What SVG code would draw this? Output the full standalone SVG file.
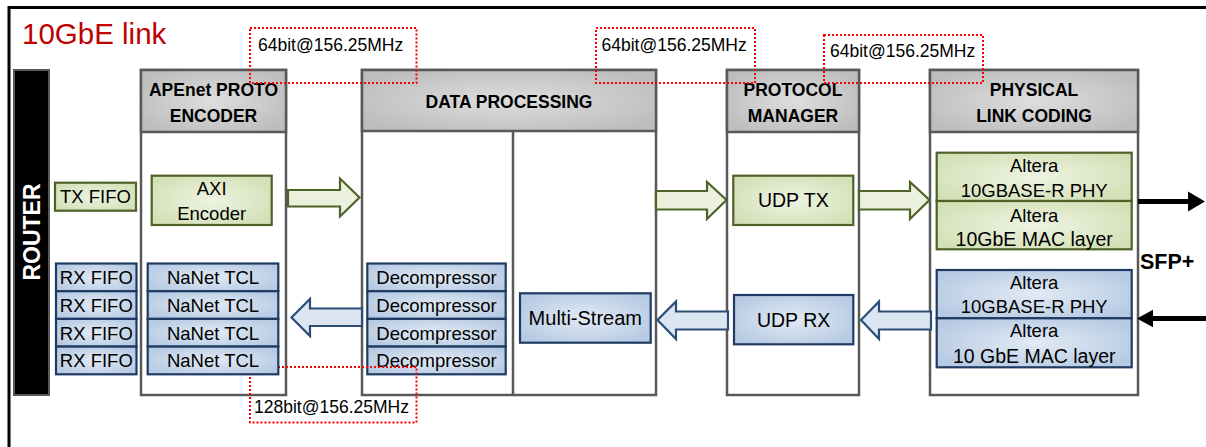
<svg xmlns="http://www.w3.org/2000/svg" width="1206" height="447" viewBox="0 0 1206 447">
<defs>
<radialGradient id="gH" cx="50%" cy="50%" r="60%"><stop offset="0" stop-color="#dedede"/><stop offset="1" stop-color="#bdbdbd"/></radialGradient>
<radialGradient id="gG" cx="50%" cy="50%" r="60%"><stop offset="0" stop-color="#eef3e2"/><stop offset="1" stop-color="#d3e0b6"/></radialGradient>
<radialGradient id="gB" cx="50%" cy="50%" r="60%"><stop offset="0" stop-color="#e2eaf4"/><stop offset="1" stop-color="#b6cae3"/></radialGradient>
<style>
text{font-family:"Liberation Sans",Arial,sans-serif;fill:#000}
.blk{fill:#fff;stroke:#595959;stroke-width:2.5}
.hdr{fill:url(#gH);stroke:#595959;stroke-width:2.5}
.ht{font-size:17.5px;font-weight:bold;text-anchor:middle}
.g{fill:url(#gG);stroke:#4f6228;stroke-width:2.2}
.b{fill:url(#gB);stroke:#1f3b63;stroke-width:2.2}
.lt{font-size:18.5px;text-anchor:middle}
.ga{fill:#ebf1de;stroke:#4f6228;stroke-width:2.2}
.ba{fill:#dce6f2;stroke:#2c4d75;stroke-width:2.2}
.dot{fill:none;stroke:#ff0000;stroke-width:2;stroke-dasharray:2 2}
.dt{font-size:17.5px}
</style>
</defs>
<rect x="9" y="7.5" width="1212" height="452" fill="#fff" stroke="#000" stroke-width="3"/>
<text x="22" y="44" style="font-size:29.5px;fill:#c00000">10GbE link</text>

<g id="router">
<rect x="14" y="70" width="35" height="325" fill="#000" stroke="#595959" stroke-width="2"/>
<text transform="translate(39.5,232) rotate(-90)" style="font-size:23px;font-weight:bold;fill:#fff;text-anchor:middle">ROUTER</text>
</g>

<g id="encoder">
<rect class="blk" x="141" y="70" width="145" height="325"/>
<rect class="hdr" x="141" y="70" width="145" height="62"/>
<text class="ht" x="213.5" y="96">APEnet PROTO</text>
<text class="ht" x="213.5" y="122">ENCODER</text>
</g>

<g id="data-processing">
<rect class="blk" x="362" y="70" width="294" height="325"/>
<rect class="hdr" x="362" y="70" width="294" height="61"/>
<line x1="513" y1="131" x2="513" y2="395" stroke="#595959" stroke-width="2.5"/>
<text class="ht" x="509" y="108">DATA PROCESSING</text>
</g>

<g id="protocol-manager">
<rect class="blk" x="727" y="70" width="132" height="325"/>
<rect class="hdr" x="727" y="70" width="132" height="62"/>
<text class="ht" x="793" y="96">PROTOCOL</text>
<text class="ht" x="793" y="122">MANAGER</text>
</g>

<g id="physical-link-coding">
<rect class="blk" x="930" y="70" width="208" height="325"/>
<rect class="hdr" x="930" y="70" width="208" height="62"/>
<text class="ht" x="1034" y="96">PHYSICAL</text>
<text class="ht" x="1034" y="122">LINK CODING</text>
</g>

<g id="tx-fifo">
<rect class="g" x="55" y="182.7" width="81" height="28"/>
<text class="lt" x="95.5" y="203">TX FIFO</text>
</g>
<g id="axi-encoder">
<rect class="g" x="151.7" y="175.7" width="120" height="49.3"/>
<text class="lt" x="211.7" y="194.5">AXI</text>
<text class="lt" x="211.7" y="219.5">Encoder</text>
</g>

<g id="rx-fifo-1"><rect class="b" x="56" y="263.5" width="80.5" height="27.7"/><text class="lt" x="96.3" y="284.3">RX FIFO</text></g>
<g id="rx-fifo-2"><rect class="b" x="56" y="291.2" width="80.5" height="27.7"/><text class="lt" x="96.3" y="312">RX FIFO</text></g>
<g id="rx-fifo-3"><rect class="b" x="56" y="318.9" width="80.5" height="27.7"/><text class="lt" x="96.3" y="339.7">RX FIFO</text></g>
<g id="rx-fifo-4"><rect class="b" x="56" y="346.6" width="80.5" height="27.7"/><text class="lt" x="96.3" y="367.4">RX FIFO</text></g>

<g id="decompressor-1"><rect class="b" x="367.3" y="263.5" width="138.4" height="27.7"/><text class="lt" x="436.5" y="284.3">Decompressor</text></g>
<g id="decompressor-2"><rect class="b" x="367.3" y="291.2" width="138.4" height="27.7"/><text class="lt" x="436.5" y="312">Decompressor</text></g>
<g id="decompressor-3"><rect class="b" x="367.3" y="318.9" width="138.4" height="27.7"/><text class="lt" x="436.5" y="339.7">Decompressor</text></g>
<g id="decompressor-4"><rect class="b" x="367.3" y="346.6" width="138.4" height="27.7"/><text class="lt" x="436.5" y="367.4">Decompressor</text></g>

<g id="clock-label-4">
<rect class="dot" x="250" y="367" width="166.5" height="55.5"/>
<text class="dt" x="254" y="412.5">128bit@156.25MHz</text>
</g>

<g id="nanet-tcl-1"><rect class="b" x="147.7" y="263.5" width="130.6" height="27.7"/><text class="lt" x="213" y="284.3">NaNet TCL</text></g>
<g id="nanet-tcl-2"><rect class="b" x="147.7" y="291.2" width="130.6" height="27.7"/><text class="lt" x="213" y="312">NaNet TCL</text></g>
<g id="nanet-tcl-3"><rect class="b" x="147.7" y="318.9" width="130.6" height="27.7"/><text class="lt" x="213" y="339.7">NaNet TCL</text></g>
<g id="nanet-tcl-4"><rect class="b" x="147.7" y="346.6" width="130.6" height="27.7"/><text class="lt" x="213" y="367.4">NaNet TCL</text></g>

<g id="multi-stream">
<rect class="b" x="520" y="293.3" width="130.7" height="49.4"/>
<text class="lt" x="585.3" y="325" style="font-size:20px">Multi-Stream</text>
</g>
<g id="udp-tx">
<rect class="g" x="733.3" y="175.7" width="120" height="49.3"/>
<text class="lt" x="793.3" y="207" style="font-size:19.5px">UDP TX</text>
</g>
<g id="udp-rx">
<rect class="b" x="734" y="295" width="119.3" height="49.3"/>
<text class="lt" x="793.6" y="327" style="font-size:19.5px">UDP RX</text>
</g>

<g id="altera-phy-tx">
<rect class="g" x="936.7" y="152.7" width="195" height="48.3"/>
<text class="lt" x="1034.2" y="171.7">Altera</text>
<text class="lt" x="1034.2" y="196.7">10GBASE-R PHY</text>
</g>
<g id="altera-mac-tx">
<rect class="g" x="936.7" y="201" width="195" height="48.3"/>
<text class="lt" x="1034.2" y="221.7">Altera</text>
<text class="lt" x="1034.2" y="246" style="font-size:19.5px">10GbE MAC layer</text>
</g>
<g id="altera-phy-rx">
<rect class="b" x="936.7" y="270" width="195" height="48.3"/>
<text class="lt" x="1034.2" y="289">Altera</text>
<text class="lt" x="1034.2" y="313.3">10GBASE-R PHY</text>
</g>
<g id="altera-mac-rx">
<rect class="b" x="936.7" y="318.3" width="195" height="49"/>
<text class="lt" x="1034.2" y="336.7">Altera</text>
<text class="lt" x="1034.2" y="363.3" style="font-size:19.5px">10 GbE MAC layer</text>
</g>

<g id="sfp-label">
<text x="1140" y="268.5" style="font-size:21.5px;font-weight:bold">SFP+</text>
</g>

<g id="connectors">
<polygon class="ga" points="288,190 340,190 340,178.5 359.5,197.5 340,216.5 340,206.5 288,206.5"/>
<polygon class="ga" points="656,191 707,191 707,182 726.5,200 707,219 707,209.5 656,209.5"/>
<polygon class="ga" points="859,191 910,191 910,182 929.5,200 910,219 910,209.5 859,209.5"/>
<polygon class="ba" points="362,308.5 310,308.5 310,299 291.5,317.5 310,336 310,326 362,326"/>
<polygon class="ba" points="728,311.5 676,311.5 676,301.5 657.5,320 676,339 676,329.5 728,329.5"/>
<polygon class="ba" points="931,311.5 879,311.5 879,301.5 861,320 879,339 879,329.5 931,329.5"/>
<line x1="1138" y1="201.5" x2="1190" y2="201.5" stroke="#000" stroke-width="5"/>
<polygon points="1188,191.5 1205,201.5 1188,211.5" fill="#000"/>
<line x1="1206" y1="318.5" x2="1151" y2="318.5" stroke="#000" stroke-width="5"/>
<polygon points="1153,309.8 1137,318.5 1153,327.2" fill="#000"/>
</g>

<g id="clock-label-1">
<rect class="dot" x="250" y="28" width="166.5" height="55"/>
<text class="dt" x="258" y="50.5">64bit@156.25MHz</text>
</g>
<g id="clock-label-2">
<rect class="dot" x="596" y="28" width="159" height="55"/>
<text class="dt" x="601.5" y="50.5">64bit@156.25MHz</text>
</g>
<g id="clock-label-3">
<rect class="dot" x="824" y="35" width="159" height="48"/>
<text class="dt" x="830" y="57">64bit@156.25MHz</text>
</g>
</svg>
